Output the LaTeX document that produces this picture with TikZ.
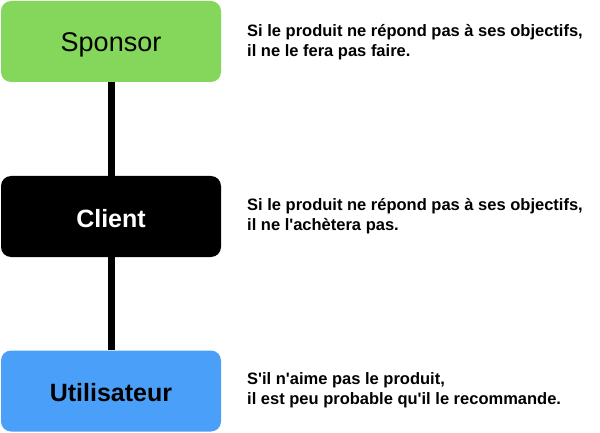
\documentclass[tikz,border=0pt]{standalone}
\usepackage{fontspec}
\setmainfont{Liberation Sans}
\usetikzlibrary{positioning}
\definecolor{sponsorgreen}{HTML}{84D75A}
\definecolor{userblue}{HTML}{4AA0F8}
\tikzset{
    role/.style={rounded corners=10pt, minimum width=220pt, minimum height=81pt, inner sep=0pt, text height=21pt, text depth=0pt},
    remark/.style={anchor=west, align=left, font=\fontsize{16.5}{20}\selectfont\bfseries, inner sep=0pt}
}

\begin{document}
\begin{tikzpicture}[x=1pt, y=-1pt]
                \useasboundingbox (0,0) rectangle (600,433);
                \node[role, fill=sponsorgreen, font=\fontsize{27}{30}\selectfont] (sponsor) at (111,41.5) {Sponsor};
                \node[role, fill=black, text=white, font=\fontsize{25}{30}\selectfont\bfseries] (client) at (111,216.5) {Client};
                \node[role, fill=userblue, font=\fontsize{25}{30}\selectfont\bfseries] (utilisateur) at (111,391) {Utilisateur};
                \draw[line width=7pt] (sponsor.south) -- (client.north);
                \draw[line width=7pt] (client.south) -- (utilisateur.north);
                \node[remark] (sponsortext) at (247,42) {Si le produit ne répond pas à ses objectifs,\\il ne le fera pas faire.};
                \node[remark] (clienttext) at (247,216) {Si le produit ne répond pas à ses objectifs,\\il ne l\textquotesingle achètera pas.};
                \node[remark] (utilisateurtext) at (247,390) {S\textquotesingle il n\textquotesingle aime pas le produit,\\il est peu probable qu\textquotesingle il le recommande.};
            \end{tikzpicture}
\end{document}
